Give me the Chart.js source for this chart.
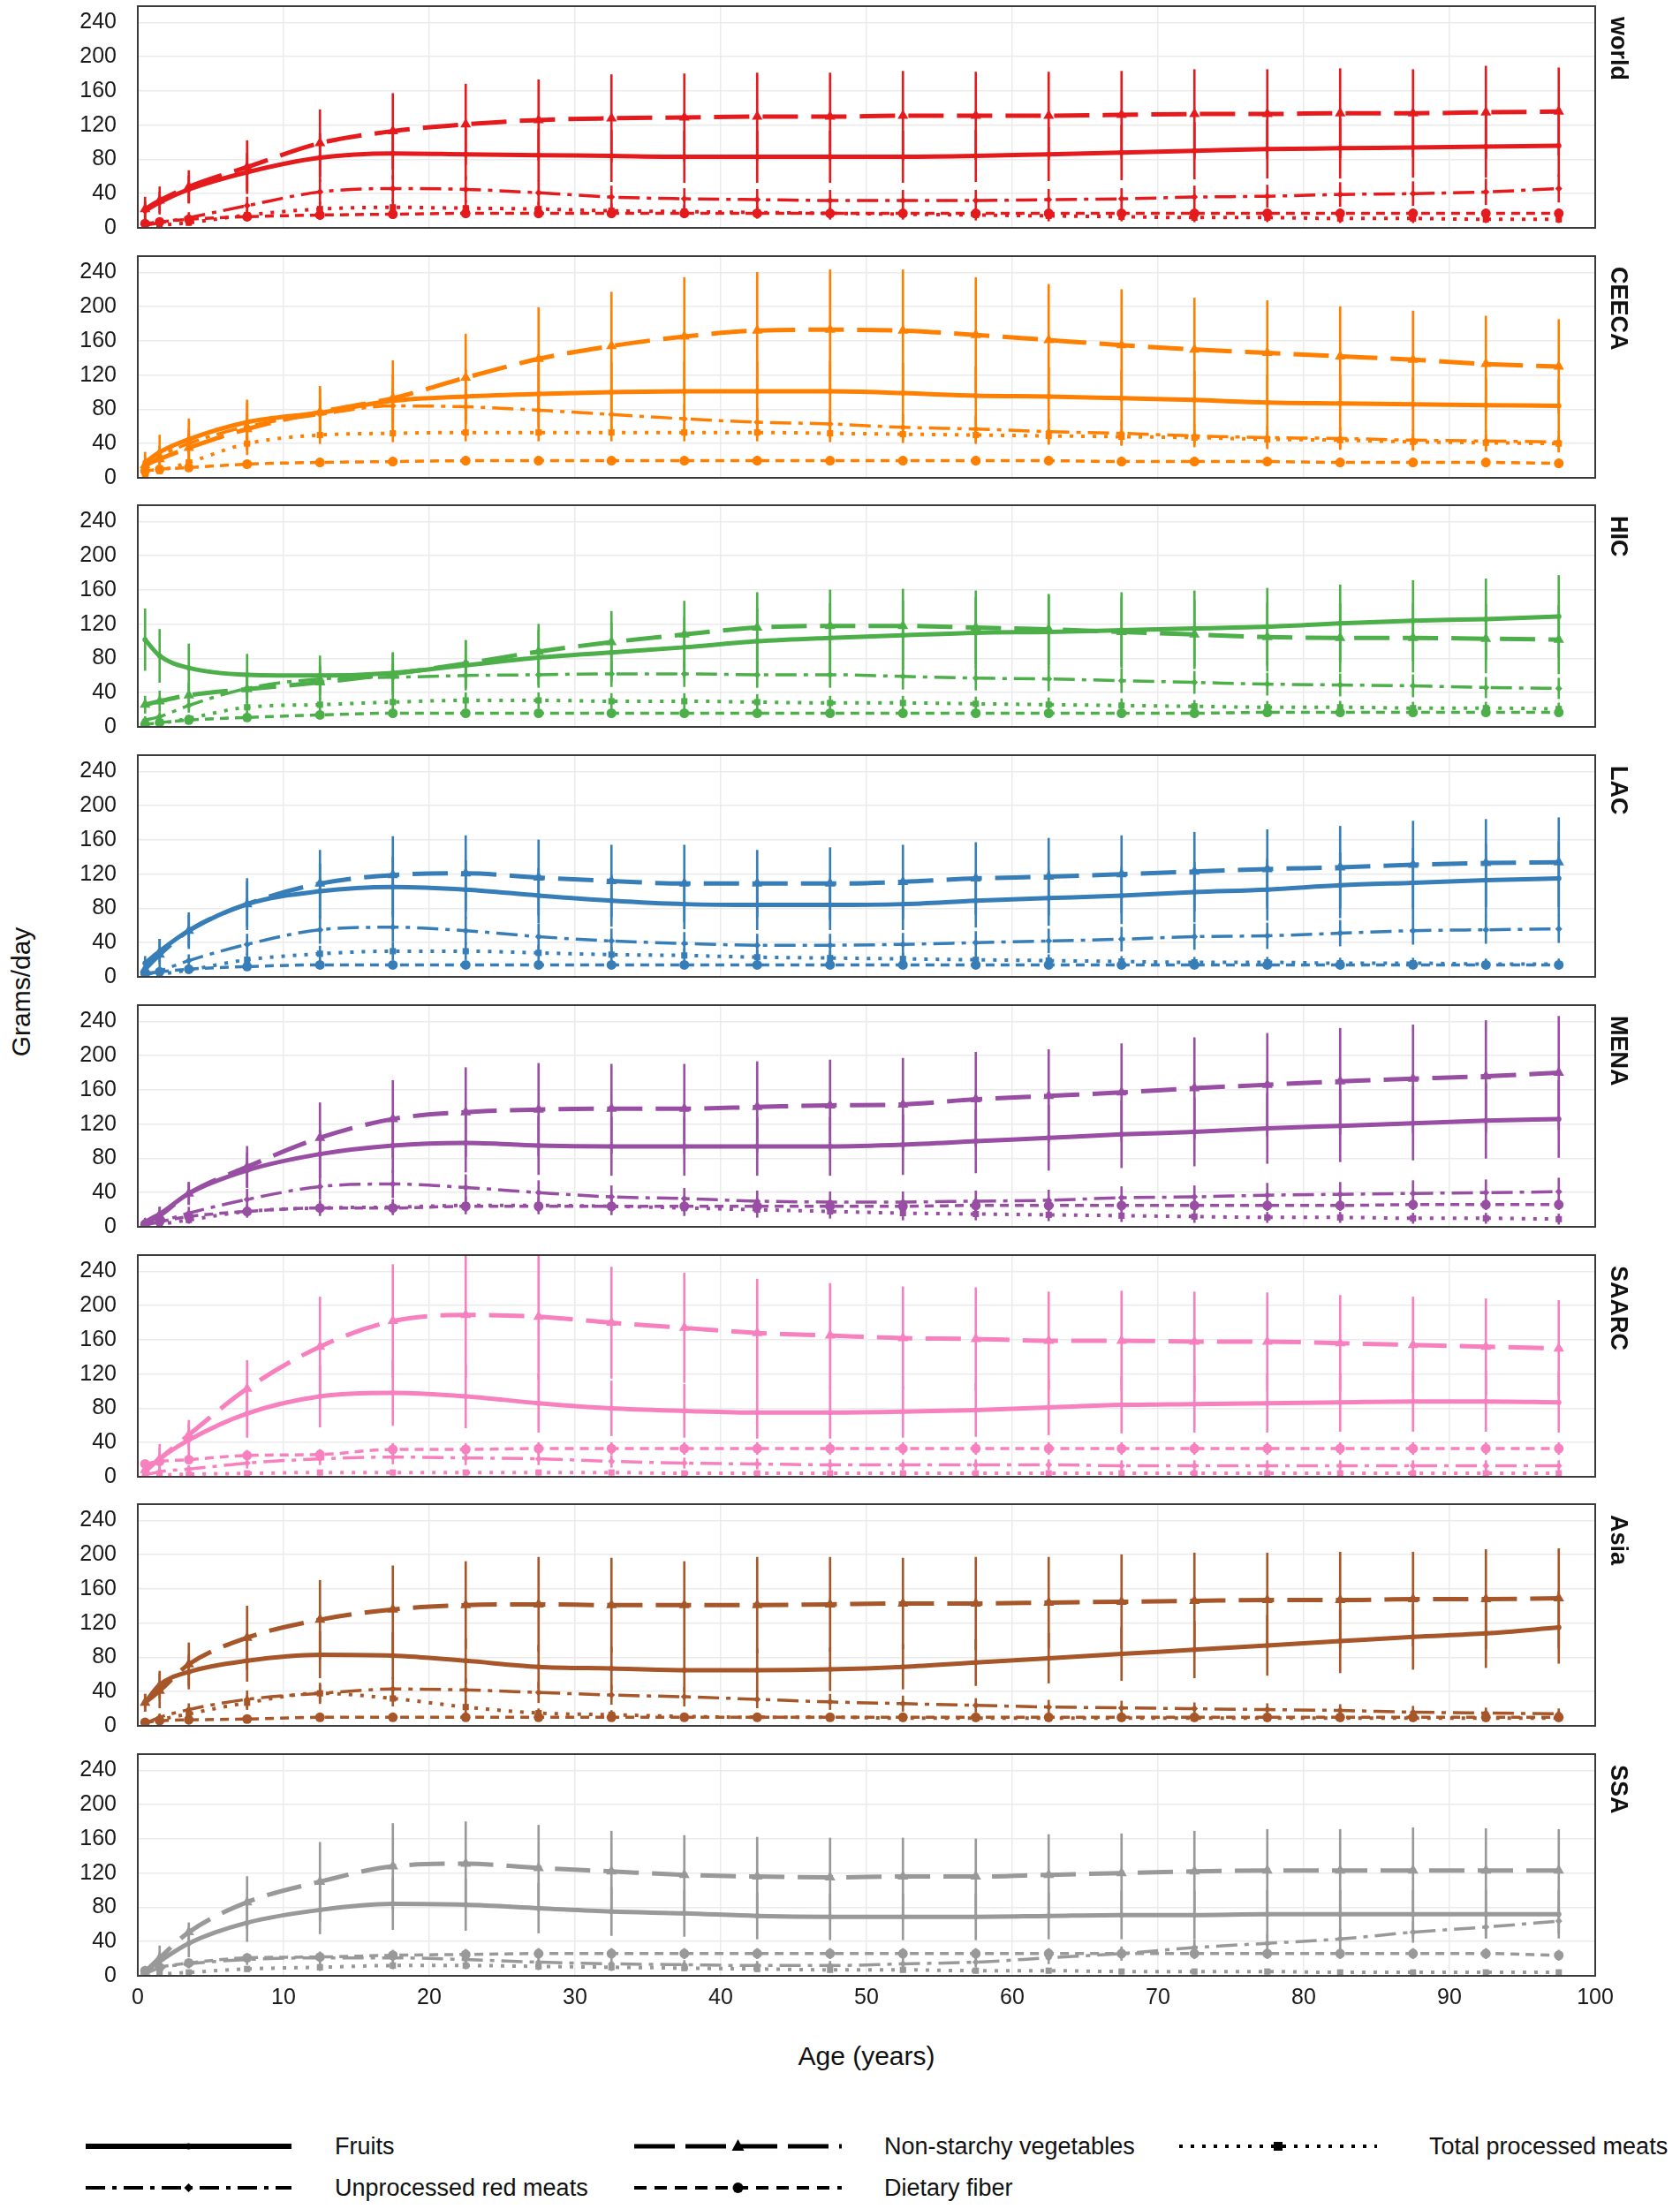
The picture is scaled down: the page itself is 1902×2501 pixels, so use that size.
<!DOCTYPE html>
<html>
<head>
<meta charset="utf-8">
<title>Intake by age and region</title>
<script src="https://cdn.jsdelivr.net/npm/chart.js@4.4.1/dist/chart.umd.min.js"></script>
<style>
  body { margin: 0; background: #fff; font-family: "Liberation Sans", Arial, sans-serif; color: #111; }
  #page { position: relative; width: 1902px; height: 2501px; overflow: hidden; }
  .panel { position: absolute; left: 0; }
  .region { position: absolute; left: 1818px; width: 30px; writing-mode: vertical-rl; font-weight: bold; font-size: 27px; line-height: 30px; }
  #ytitle { position: absolute; left: -126px; top: 1105px; width: 300px; height: 36px; line-height: 36px; text-align: center; font-size: 30px; transform: rotate(-90deg); }
  #xtitle { position: absolute; left: 781px; top: 2310px; width: 400px; height: 36px; line-height: 36px; text-align: center; font-size: 30px; }
  .lg-sample { position: absolute; }
  .lg-text { position: absolute; font-size: 27px; height: 34px; line-height: 34px; white-space: nowrap; }
</style>
</head>
<body>
<div id="page">
  <div id="ytitle">Grams/day</div>
  <div id="xtitle">Age (years)</div>
</div>
<script>
// age group midpoints (years)
const ages = [0.5, 1.5, 3.5, 7.5, 12.5, 17.5, 22.5, 27.5, 32.5, 37.5, 42.5, 47.5, 52.5, 57.5, 62.5, 67.5, 72.5, 77.5, 82.5, 87.5, 92.5, 97.5];
const regions = ["world", "CEECA", "HIC", "LAC", "MENA", "SAARC", "Asia", "SSA"];
const regionColors = ["#e41a1c", "#ff7f00", "#4daf4a", "#377eb8", "#984ea3", "#f781bf", "#a65628", "#999999"];
const seriesNames = ["Fruits", "Non-starchy vegetables", "Total processed meats", "Unprocessed red meats", "Dietary fiber"];
const yTicks = [0, 40, 80, 120, 160, 200, 240];
const xTicks = [0, 10, 20, 30, 40, 50, 60, 70, 80, 90, 100];

// world
const worldFruits = [20, 30, 45, 65, 82, 87, 86, 85, 84, 83, 83, 83, 83, 84, 86, 88, 90, 92, 93, 94, 95, 96];
const worldFruitsErr = [10, 12, 16, 22, 28, 30, 30, 30, 30, 30, 30, 30, 30, 30, 31, 32, 33, 34, 35, 35, 36, 36];
const worldVeg = [22, 32, 48, 71, 99, 113, 121, 126, 128, 129, 130, 130, 131, 131, 131, 132, 133, 133, 134, 134, 135, 136];
const worldVegErr = [14, 16, 19, 31, 39, 44, 47, 47, 51, 51, 51, 51, 52, 51, 51, 51, 52, 52, 52, 51, 54, 51];
const worldProc = [1, 3, 6, 15, 22, 24, 23, 22, 20, 19, 18, 17, 16, 15, 14, 13, 12, 12, 11, 11, 10, 10];
const worldProcErr = [1, 2, 3, 6, 8, 9, 9, 8, 8, 7, 7, 7, 6, 6, 6, 5, 5, 5, 5, 5, 4, 4];
const worldRed = [3, 6, 12, 26, 42, 46, 45, 41, 36, 34, 33, 32, 32, 32, 33, 34, 36, 37, 39, 40, 42, 46];
const worldRedErr = [3, 4, 6, 10, 14, 15, 15, 14, 13, 12, 12, 12, 12, 12, 12, 12, 13, 13, 14, 14, 15, 16];
const worldFiber = [5, 7, 10, 13, 15, 16, 17, 17, 17, 17, 17, 17, 17, 17, 17, 17, 17, 17, 17, 17, 17, 17];
const worldFiberErr = [2, 2, 3, 4, 5, 5, 5, 5, 5, 5, 5, 5, 5, 5, 5, 5, 5, 5, 5, 5, 5, 5];

// CEECA
const ceecaFruits = [18, 30, 45, 65, 76, 90, 95, 98, 100, 101, 101, 101, 99, 96, 95, 93, 91, 88, 87, 86, 85, 84];
const ceecaFruitsErr = [12, 20, 24, 26, 28, 30, 32, 34, 35, 35, 35, 35, 35, 34, 34, 33, 33, 32, 32, 31, 31, 31];
const ceecaVeg = [15, 22, 35, 57, 77, 93, 117, 139, 154, 165, 172, 173, 172, 167, 161, 155, 150, 146, 142, 138, 133, 130];
const ceecaVegErr = [10, 15, 22, 30, 30, 44, 51, 60, 63, 69, 68, 70, 71, 67, 65, 65, 60, 61, 58, 57, 56, 55];
const ceecaProc = [3, 8, 18, 40, 50, 52, 53, 53, 53, 53, 53, 52, 51, 50, 49, 48, 47, 45, 44, 42, 41, 40];
const ceecaProcErr = [2, 3, 5, 8, 10, 10, 10, 10, 10, 10, 10, 10, 10, 10, 10, 10, 9, 9, 9, 9, 9, 9];
const ceecaRed = [12, 25, 40, 60, 74, 84, 83, 79, 74, 69, 65, 63, 59, 57, 54, 52, 49, 47, 46, 44, 43, 42];
const ceecaRedErr = [5, 8, 12, 15, 18, 20, 20, 19, 18, 17, 16, 16, 15, 15, 14, 14, 13, 13, 13, 12, 12, 12];
const ceecaFiber = [8, 10, 12, 16, 18, 19, 20, 20, 20, 20, 20, 20, 20, 20, 20, 19, 19, 19, 18, 18, 18, 17];
const ceecaFiberErr = [3, 3, 4, 5, 5, 5, 5, 5, 5, 5, 5, 5, 5, 5, 5, 5, 5, 5, 5, 5, 5, 5];

// HIC
const hicFruits = [102, 83, 69, 61, 60, 63, 72, 81, 87, 93, 100, 104, 107, 110, 111, 113, 115, 117, 121, 124, 126, 129];
const hicFruitsErr = [36, 31, 28, 24, 23, 24, 29, 32, 34, 36, 38, 40, 40, 41, 42, 44, 44, 45, 45, 47, 47, 48];
const hicVeg = [26, 30, 37, 44, 52, 62, 74, 88, 99, 108, 116, 118, 118, 116, 114, 111, 108, 105, 104, 104, 103, 102];
const hicVegErr = [10, 12, 14, 16, 20, 24, 27, 32, 36, 39, 41, 42, 43, 43, 41, 40, 40, 40, 40, 40, 40, 40];
const hicProc = [2, 4, 10, 23, 26, 29, 31, 31, 30, 30, 29, 28, 28, 27, 26, 25, 24, 23, 23, 22, 22, 21];
const hicProcErr = [1, 2, 4, 7, 8, 9, 9, 9, 9, 9, 9, 8, 8, 8, 8, 8, 7, 7, 7, 7, 7, 7];
const hicRed = [8, 12, 25, 45, 56, 58, 60, 61, 62, 62, 61, 61, 59, 57, 56, 54, 52, 50, 49, 48, 46, 45];
const hicRedErr = [4, 5, 8, 12, 14, 15, 15, 15, 15, 15, 15, 15, 15, 14, 14, 14, 13, 13, 13, 13, 12, 12];
const hicFiber = [3, 5, 8, 11, 14, 16, 16, 16, 16, 16, 16, 16, 16, 16, 16, 16, 16, 17, 17, 17, 17, 17];
const hicFiberErr = [1, 2, 3, 4, 4, 4, 4, 4, 4, 4, 4, 4, 4, 4, 4, 4, 4, 4, 4, 4, 4, 4];

// LAC
const lacFruits = [16, 30, 54, 85, 100, 105, 102, 95, 89, 85, 84, 84, 85, 89, 92, 95, 99, 102, 107, 110, 113, 115];
const lacFruitsErr = [8, 14, 18, 26, 32, 35, 34, 32, 30, 29, 29, 29, 30, 31, 32, 33, 35, 36, 38, 40, 42, 43];
const lacVeg = [9, 26, 54, 85, 109, 119, 121, 116, 112, 109, 109, 109, 111, 115, 117, 120, 123, 126, 128, 131, 133, 134];
const lacVegErr = [8, 18, 21, 30, 39, 45, 44, 44, 42, 45, 39, 42, 43, 42, 45, 45, 46, 46, 48, 51, 51, 52];
const lacProc = [1, 3, 8, 20, 27, 30, 30, 28, 26, 25, 23, 22, 21, 20, 19, 18, 17, 17, 16, 16, 15, 15];
const lacProcErr = [1, 2, 4, 7, 9, 10, 10, 9, 9, 8, 8, 8, 7, 7, 7, 6, 6, 6, 6, 6, 6, 6];
const lacRed = [2, 7, 19, 38, 55, 58, 54, 47, 42, 39, 37, 37, 38, 40, 42, 44, 47, 48, 51, 54, 55, 56];
const lacRedErr = [2, 4, 7, 12, 16, 17, 16, 15, 14, 13, 13, 13, 13, 13, 14, 14, 15, 15, 15, 16, 16, 16];
const lacFiber = [4, 6, 9, 12, 14, 14, 14, 14, 14, 14, 14, 14, 14, 14, 14, 14, 14, 14, 14, 14, 14, 14];
const lacFiberErr = [2, 2, 3, 4, 4, 4, 4, 4, 4, 4, 4, 4, 4, 4, 4, 4, 4, 4, 4, 4, 4, 4];

// MENA
const menaFruits = [6, 15, 39, 66, 85, 95, 98, 95, 94, 94, 94, 94, 96, 100, 104, 108, 111, 115, 118, 121, 124, 126];
const menaFruitsErr = [4, 8, 13, 20, 28, 32, 34, 34, 34, 34, 34, 34, 35, 37, 38, 39, 40, 41, 42, 43, 44, 45];
const menaVeg = [4, 13, 39, 70, 104, 126, 134, 137, 138, 138, 140, 142, 143, 149, 153, 157, 162, 166, 170, 173, 176, 180];
const menaVegErr = [4, 10, 13, 24, 41, 45, 52, 54, 52, 52, 53, 53, 54, 55, 54, 57, 59, 60, 62, 63, 65, 66];
const menaProc = [1, 3, 8, 18, 22, 23, 25, 25, 24, 22, 20, 18, 16, 15, 14, 13, 12, 11, 11, 10, 10, 9];
const menaProcErr = [1, 2, 4, 7, 9, 9, 10, 10, 10, 9, 9, 8, 8, 7, 7, 7, 7, 6, 6, 6, 6, 6];
const menaRed = [2, 6, 16, 32, 47, 50, 46, 40, 35, 33, 30, 29, 29, 30, 31, 34, 35, 37, 38, 39, 40, 41];
const menaRedErr = [2, 4, 7, 12, 15, 16, 15, 14, 13, 12, 12, 12, 12, 12, 12, 13, 13, 14, 14, 15, 15, 16];
const menaFiber = [3, 6, 12, 18, 22, 22, 24, 24, 24, 24, 24, 24, 24, 25, 25, 25, 25, 25, 25, 26, 26, 26];
const menaFiberErr = [2, 2, 3, 5, 6, 6, 6, 6, 6, 6, 6, 6, 6, 6, 6, 6, 6, 6, 6, 6, 6, 6];

// SAARC
const saarcFruits = [6, 21, 43, 74, 94, 98, 94, 86, 80, 77, 75, 75, 76, 78, 81, 84, 85, 86, 87, 88, 88, 87];
const saarcFruitsErr = [5, 12, 18, 28, 36, 38, 37, 34, 32, 31, 30, 30, 30, 31, 32, 33, 33, 34, 34, 35, 35, 35];
const saarcVeg = [8, 21, 49, 103, 152, 182, 189, 187, 180, 174, 168, 165, 162, 161, 159, 159, 158, 158, 156, 154, 152, 150];
const saarcVegErr = [6, 17, 17, 33, 58, 66, 73, 73, 65, 64, 63, 61, 60, 60, 57, 58, 58, 57, 56, 56, 56, 56];
const saarcProc = [1, 2, 3, 4, 5, 5, 5, 5, 5, 4, 4, 4, 4, 4, 4, 4, 4, 4, 4, 4, 4, 4];
const saarcProcErr = [1, 1, 2, 3, 3, 3, 3, 3, 3, 3, 3, 3, 3, 3, 3, 3, 3, 3, 3, 3, 3, 3];
const saarcRed = [2, 6, 9, 16, 21, 23, 22, 21, 18, 16, 15, 14, 14, 14, 14, 13, 13, 13, 13, 13, 13, 13];
const saarcRedErr = [2, 3, 4, 6, 7, 8, 8, 7, 7, 6, 6, 6, 6, 6, 6, 6, 6, 6, 6, 6, 6, 6];
const saarcFiber = [15, 18, 20, 25, 26, 32, 32, 33, 33, 33, 33, 33, 33, 33, 33, 33, 33, 33, 33, 33, 33, 33];
const saarcFiberErr = [4, 5, 5, 6, 6, 7, 7, 7, 7, 7, 7, 7, 7, 7, 7, 7, 7, 7, 7, 7, 7, 7];

// Asia
const asiaFruits = [27, 48, 63, 76, 83, 82, 76, 69, 67, 65, 65, 66, 69, 74, 79, 84, 89, 94, 99, 104, 108, 115];
const asiaFruitsErr = [10, 16, 20, 24, 27, 27, 26, 25, 25, 25, 25, 25, 26, 27, 29, 31, 33, 35, 37, 38, 40, 42];
const asiaVeg = [27, 41, 72, 103, 124, 136, 141, 142, 141, 141, 141, 142, 143, 143, 144, 145, 146, 147, 147, 148, 148, 149];
const asiaVegErr = [10, 20, 25, 37, 46, 51, 51, 55, 55, 51, 56, 55, 53, 54, 53, 55, 56, 55, 56, 55, 58, 58];
const asiaProc = [2, 7, 14, 27, 38, 32, 22, 15, 13, 11, 10, 10, 9, 9, 9, 9, 9, 9, 9, 9, 9, 9];
const asiaProcErr = [1, 3, 5, 8, 10, 9, 7, 5, 5, 4, 4, 4, 4, 4, 4, 4, 4, 4, 4, 4, 4, 4];
const asiaRed = [3, 10, 19, 31, 38, 43, 42, 39, 36, 34, 31, 28, 26, 24, 22, 21, 20, 19, 18, 16, 15, 14];
const asiaRedErr = [2, 4, 7, 10, 12, 13, 13, 12, 11, 11, 10, 9, 9, 8, 8, 8, 7, 7, 7, 7, 6, 6];
const asiaFiber = [4, 6, 7, 8, 10, 10, 10, 10, 10, 10, 10, 10, 10, 10, 10, 10, 10, 10, 10, 10, 10, 10];
const asiaFiberErr = [2, 2, 3, 3, 3, 3, 3, 3, 3, 3, 3, 3, 3, 3, 3, 3, 3, 3, 3, 3, 3, 3];

// SSA
const ssaFruits = [5, 17, 38, 62, 77, 84, 83, 79, 75, 73, 70, 69, 69, 69, 70, 71, 71, 72, 72, 72, 72, 72];
const ssaFruitsErr = [4, 10, 16, 22, 28, 30, 30, 29, 28, 27, 27, 27, 27, 27, 27, 28, 28, 28, 28, 28, 28, 28];
const ssaVeg = [5, 21, 51, 86, 110, 128, 131, 126, 122, 118, 116, 115, 116, 116, 118, 120, 122, 123, 123, 123, 123, 123];
const ssaVegErr = [5, 14, 11, 30, 46, 50, 49, 50, 47, 46, 46, 46, 45, 44, 47, 46, 47, 48, 48, 50, 49, 48];
const ssaProc = [1, 2, 4, 8, 10, 12, 12, 11, 10, 9, 8, 7, 7, 6, 6, 5, 5, 5, 4, 4, 4, 4];
const ssaProcErr = [1, 1, 2, 3, 4, 4, 4, 4, 4, 3, 3, 3, 3, 3, 3, 3, 3, 3, 3, 3, 3, 3];
const ssaRed = [3, 9, 14, 19, 21, 21, 19, 16, 14, 13, 12, 12, 14, 16, 21, 26, 33, 38, 43, 51, 57, 64];
const ssaRedErr = [2, 3, 5, 6, 7, 7, 7, 6, 6, 5, 5, 5, 6, 6, 7, 8, 9, 10, 11, 12, 13, 14];
const ssaFiber = [6, 10, 15, 21, 22, 24, 25, 26, 26, 26, 26, 26, 26, 26, 26, 26, 26, 26, 26, 26, 26, 24];
const ssaFiberErr = [2, 3, 4, 5, 5, 6, 6, 6, 6, 6, 6, 6, 6, 6, 6, 6, 6, 6, 6, 6, 6, 6];

// per region: [mean, err] for each series, in seriesNames order
const regionSeries = [
  [[worldFruits, worldFruitsErr], [worldVeg, worldVegErr], [worldProc, worldProcErr], [worldRed, worldRedErr], [worldFiber, worldFiberErr]],
  [[ceecaFruits, ceecaFruitsErr], [ceecaVeg, ceecaVegErr], [ceecaProc, ceecaProcErr], [ceecaRed, ceecaRedErr], [ceecaFiber, ceecaFiberErr]],
  [[hicFruits, hicFruitsErr], [hicVeg, hicVegErr], [hicProc, hicProcErr], [hicRed, hicRedErr], [hicFiber, hicFiberErr]],
  [[lacFruits, lacFruitsErr], [lacVeg, lacVegErr], [lacProc, lacProcErr], [lacRed, lacRedErr], [lacFiber, lacFiberErr]],
  [[menaFruits, menaFruitsErr], [menaVeg, menaVegErr], [menaProc, menaProcErr], [menaRed, menaRedErr], [menaFiber, menaFiberErr]],
  [[saarcFruits, saarcFruitsErr], [saarcVeg, saarcVegErr], [saarcProc, saarcProcErr], [saarcRed, saarcRedErr], [saarcFiber, saarcFiberErr]],
  [[asiaFruits, asiaFruitsErr], [asiaVeg, asiaVegErr], [asiaProc, asiaProcErr], [asiaRed, asiaRedErr], [asiaFiber, asiaFiberErr]],
  [[ssaFruits, ssaFruitsErr], [ssaVeg, ssaVegErr], [ssaProc, ssaProcErr], [ssaRed, ssaRedErr], [ssaFiber, ssaFiberErr]]
];

// line look of each series (same order as seriesNames)
const seriesStyle = [
  { width: 5, dash: [], point: "circle", radius: 3, lgWidth: 6, lgDash: "" },
  { width: 5, dash: [40, 15], point: "triangle", radius: 7, lgWidth: 5, lgDash: "46 12" },
  { width: 4, dash: [4, 9], point: "rect", radius: 5, lgWidth: 4, lgDash: "4 9" },
  { width: 3.5, dash: [24, 8, 5, 8], point: "rectRot", radius: 4, lgWidth: 4, lgDash: "22 8 5 8" },
  { width: 3.5, dash: [10, 7], point: "circle", radius: 5.5, lgWidth: 4, lgDash: "14 9" }
];

Chart.defaults.font.family = "'Liberation Sans', Arial, sans-serif";
Chart.defaults.color = "#1a1a1a";

const framePlugin = {
  id: "frame",
  afterDraw(chart) {
    const { ctx, chartArea } = chart;
    ctx.save();
    ctx.strokeStyle = "#3a3a3a";
    ctx.lineWidth = 2;
    ctx.strokeRect(chartArea.left, chartArea.top, chartArea.width, chartArea.height);
    ctx.restore();
  }
};

const page = document.getElementById("page");
const panelTop0 = 7;
const panelStep = 282.7;
const plotH = 251;
const padTop = 45;   // room for the y tick padding chart.js reserves

regions.forEach((name, r) => {
  const isLast = r === regions.length - 1;
  const color = regionColors[r];
  const top = Math.round(panelTop0 + panelStep * r);
  const xAxisH = isLast ? 50 : 0;
  const padBottom = isLast ? 0 : 45;
  const canvasH = padTop + plotH + xAxisH + padBottom;

  const box = document.createElement("div");
  box.className = "panel";
  box.style.top = (top - padTop) + "px";
  const canvas = document.createElement("canvas");
  canvas.width = 1860;
  canvas.height = canvasH;
  canvas.style.width = "1860px";
  canvas.style.height = canvasH + "px";
  box.appendChild(canvas);
  page.appendChild(box);

  const label = document.createElement("div");
  label.className = "region";
  label.style.top = (top + 12) + "px";
  label.textContent = name;
  page.appendChild(label);

  const datasets = [];
  regionSeries[r].forEach(([mean, err], s) => {
    const st = seriesStyle[s];
    datasets.push({
      type: "line",
      label: seriesNames[s],
      data: ages.map((a, i) => ({ x: a, y: mean[i] })),
      borderColor: color,
      backgroundColor: color,
      borderWidth: st.width,
      borderDash: st.dash,
      fill: false,
      cubicInterpolationMode: "monotone",
      pointStyle: st.point,
      pointRadius: st.radius,
      pointBorderWidth: 0,
      pointBackgroundColor: color,
      order: 1
    });
    // error bars as thin floating bars
    datasets.push({
      type: "bar",
      label: seriesNames[s] + " range",
      data: ages.map((a, i) => ({ x: a, y: [Math.max(0, mean[i] - err[i]), mean[i] + err[i]] })),
      backgroundColor: color,
      borderWidth: 0,
      barThickness: 2,
      grouped: false,
      order: 2
    });
  });

  new Chart(canvas, {
    type: "line",
    data: { datasets },
    plugins: [framePlugin],
    options: {
      responsive: false,
      animation: false,
      events: [],
      layout: { padding: { top: padTop, bottom: padBottom, left: 0, right: 54 } },
      plugins: { legend: { display: false }, tooltip: { enabled: false } },
      scales: {
        x: {
          type: "linear",
          min: 0,
          max: 100,
          offset: false,
          grid: { color: "#ebebeb", lineWidth: 1.5, drawTicks: false, offset: false },
          border: { display: false },
          ticks: { display: isLast, padding: 10, font: { size: 25 }, color: "#1a1a1a" },
          afterBuildTicks: (scale) => { scale.ticks = xTicks.map(v => ({ value: v })); },
          afterFit: (scale) => { scale.height = xAxisH; }
        },
        y: {
          type: "linear",
          min: 0,
          max: 259,
          grid: { color: "#ebebeb", lineWidth: 1.5, drawTicks: false },
          border: { display: false },
          ticks: { padding: 24, font: { size: 25 }, color: "#1a1a1a" },
          afterBuildTicks: (scale) => { scale.ticks = yTicks.map(v => ({ value: v })); },
          afterFit: (scale) => { scale.width = 156; }
        }
      }
    }
  });
});

// legend: 3 columns, 2 rows
const legendCols = [
  { x0: 97, x1: 330, tx: 379 },
  { x0: 718, x1: 953, tx: 1001 },
  { x0: 1335, x1: 1559, tx: 1618 }
];
const legendRows = [2430, 2477];

function markerSvg(point, cx, cy, r) {
  if (point === "triangle") return `<polygon points="${cx},${cy - 8} ${cx - 7},${cy + 5} ${cx + 7},${cy + 5}" fill="#000"/>`;
  if (point === "rect") return `<rect x="${cx - 5}" y="${cy - 5}" width="10" height="10" fill="#000"/>`;
  if (point === "rectRot") return `<polygon points="${cx},${cy - 5} ${cx + 5},${cy} ${cx},${cy + 5} ${cx - 5},${cy}" fill="#000"/>`;
  return `<circle cx="${cx}" cy="${cy}" r="${r || 3.5}" fill="#000"/>`;
}

seriesNames.forEach((name, s) => {
  const col = legendCols[s % 3];
  const rowY = legendRows[Math.floor(s / 3)];
  const st = seriesStyle[s];
  const w = col.x1 - col.x0;
  const svg = document.createElement("div");
  svg.className = "lg-sample";
  svg.style.left = col.x0 + "px";
  svg.style.top = (rowY - 12) + "px";
  const mk = markerSvg(st.point, w / 2, 12, s === 4 ? 6 : 3.5);
  svg.innerHTML = `<svg width="${w}" height="24" xmlns="http://www.w3.org/2000/svg">
    <line x1="0" y1="12" x2="${w}" y2="12" stroke="#000" stroke-width="${st.lgWidth}" ${st.lgDash ? `stroke-dasharray="${st.lgDash}"` : ""}/>
    ${mk}</svg>`;
  page.appendChild(svg);

  const txt = document.createElement("div");
  txt.className = "lg-text";
  txt.style.left = col.tx + "px";
  txt.style.top = (rowY - 17) + "px";
  txt.textContent = name;
  page.appendChild(txt);
});
</script>
</body>
</html>
